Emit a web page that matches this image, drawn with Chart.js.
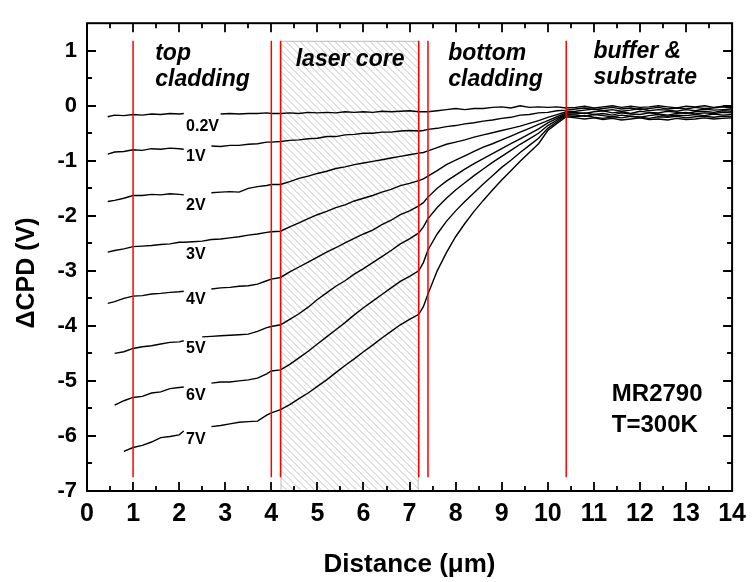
<!DOCTYPE html>
<html><head><meta charset="utf-8">
<script src="https://cdn.jsdelivr.net/npm/chart.js@4.4.1/dist/chart.umd.min.js"></script>
<style>html,body{margin:0;padding:0;background:#fff;}#wrap{width:754px;height:582px;}</style>
</head><body><div id="wrap"><canvas id="c" width="754" height="582"></canvas></div>
<script>
// ---------------- data ----------------
const distance = [0.45,0.6,0.8,1.0,1.2,1.4,1.6,1.8,2.0,2.1,2.3,2.5,2.7,2.9,3.1,3.3,3.5,3.7,3.9,4.0,
  4.2,4.4,4.6,4.8,5.0,5.2,5.4,5.6,5.8,6.0,6.2,6.4,6.6,6.8,7.0,7.2,
  7.3,7.4,7.6,7.8,8.0,8.2,8.4,8.6,8.8,9.0,9.2,9.4,9.6,9.8,10.0,10.2,10.4,
  10.6,10.8,11.0,11.2,11.4,11.6,11.8,12.0,12.2,12.4,12.6,12.8,13.0,13.2,13.4,13.6,13.8,14.0];

const cpd_0_2V = [-0.20,-0.17,-0.18,-0.16,-0.17,-0.15,-0.16,-0.14,-0.15,-0.14,null,null,null,-0.15,-0.14,-0.15,-0.14,-0.14,-0.13,-0.14,
  -0.14,-0.13,-0.14,-0.12,-0.13,-0.12,-0.13,-0.11,-0.12,-0.11,-0.12,-0.10,-0.11,-0.10,-0.09,-0.11,
  -0.11,-0.11,-0.09,-0.07,-0.05,-0.07,-0.05,-0.05,-0.03,-0.02,-0.04,0.00,-0.03,-0.02,-0.03,-0.02,-0.04,
  -0.03,-0.01,-0.04,-0.02,0.00,-0.03,-0.01,-0.03,-0.02,0.00,-0.02,-0.04,-0.01,-0.02,0.00,-0.03,-0.01,-0.02];
const cpd_1V = [-0.88,-0.84,-0.83,-0.80,-0.81,-0.78,-0.79,-0.77,-0.78,-0.79,null,null,-0.73,-0.74,-0.72,-0.72,-0.70,-0.69,-0.66,-0.66,
  -0.65,-0.63,-0.62,-0.60,-0.59,-0.56,-0.56,-0.53,-0.52,-0.50,-0.50,-0.48,-0.48,-0.46,-0.45,-0.46,
  -0.45,-0.43,-0.41,-0.38,-0.36,-0.33,-0.31,-0.28,-0.26,-0.23,-0.21,-0.17,-0.16,-0.13,-0.12,-0.09,-0.08,
  -0.06,-0.04,-0.07,-0.05,-0.03,-0.06,-0.04,-0.07,-0.05,-0.03,-0.06,-0.04,-0.06,-0.03,-0.05,-0.04,-0.02,-0.04];
const cpd_2V = [-1.74,-1.72,-1.68,-1.63,-1.63,-1.61,-1.62,-1.60,-1.61,-1.62,null,null,-1.58,-1.57,-1.56,-1.57,-1.50,-1.47,-1.45,-1.43,
  -1.43,-1.38,-1.32,-1.28,-1.23,-1.19,-1.14,-1.11,-1.07,-1.04,-1.01,-0.98,-0.95,-0.92,-0.89,-0.86,
  -0.85,-0.82,-0.76,-0.70,-0.66,-0.62,-0.57,-0.53,-0.49,-0.45,-0.41,-0.37,-0.32,-0.27,-0.21,-0.16,-0.11,
  -0.10,-0.08,-0.06,-0.09,-0.07,-0.10,-0.08,-0.05,-0.09,-0.07,-0.08,-0.10,-0.07,-0.09,-0.06,-0.08,-0.07,-0.06];
const cpd_3V = [-2.66,-2.63,-2.60,-2.56,-2.55,-2.54,-2.52,-2.51,-2.48,-2.48,-2.47,-2.46,-2.43,-2.42,-2.40,-2.38,-2.35,-2.33,-2.30,-2.29,
  -2.28,-2.20,-2.13,-2.05,-1.98,-1.92,-1.85,-1.80,-1.73,-1.68,-1.63,-1.57,-1.52,-1.45,-1.41,-1.36,
  -1.33,-1.28,-1.18,-1.07,-0.99,-0.91,-0.83,-0.75,-0.69,-0.62,-0.55,-0.48,-0.41,-0.34,-0.27,-0.20,-0.13,
  -0.12,-0.14,-0.11,-0.09,-0.13,-0.11,-0.14,-0.10,-0.12,-0.13,-0.10,-0.12,-0.14,-0.11,-0.10,-0.12,-0.09,-0.10];
const cpd_4V = [-3.59,-3.56,-3.50,-3.46,-3.45,-3.42,-3.41,-3.39,-3.38,-3.37,null,null,-3.33,-3.31,-3.30,-3.28,-3.27,-3.24,-3.18,-3.15,
  -3.12,-3.02,-2.93,-2.84,-2.75,-2.66,-2.58,-2.49,-2.41,-2.33,-2.26,-2.16,-2.08,-1.98,-1.91,-1.82,
  -1.76,-1.66,-1.50,-1.37,-1.26,-1.15,-1.05,-0.96,-0.87,-0.78,-0.69,-0.60,-0.51,-0.42,-0.31,-0.23,-0.15,
  -0.15,-0.13,-0.16,-0.14,-0.17,-0.13,-0.15,-0.16,-0.13,-0.15,-0.17,-0.14,-0.12,-0.15,-0.13,-0.14,-0.12,-0.13];
const cpd_5V = [null,-4.50,-4.47,-4.41,-4.38,-4.36,-4.33,-4.30,-4.29,-4.27,null,-4.20,-4.19,-4.18,-4.17,-4.16,-4.15,-4.10,-4.03,-4.01,
  -3.98,-3.88,-3.78,-3.66,-3.52,-3.40,-3.28,-3.18,-3.06,-2.96,-2.85,-2.74,-2.63,-2.51,-2.42,-2.31,
  -2.20,-2.05,-1.85,-1.68,-1.53,-1.40,-1.27,-1.15,-1.03,-0.92,-0.81,-0.70,-0.60,-0.50,-0.36,-0.26,-0.16,
  -0.17,-0.19,-0.16,-0.18,-0.20,-0.17,-0.19,-0.21,-0.18,-0.16,-0.19,-0.17,-0.18,-0.16,-0.18,-0.15,-0.17,-0.16];
const cpd_6V = [null,-5.44,-5.36,-5.30,-5.28,-5.22,-5.20,-5.14,-5.12,-5.11,null,null,-5.04,-5.02,-5.02,-5.00,-4.98,-4.95,-4.87,-4.82,
  -4.80,-4.70,-4.58,-4.46,-4.33,-4.20,-4.07,-3.94,-3.80,-3.67,-3.55,-3.43,-3.31,-3.19,-3.10,-3.00,
  -2.85,-2.62,-2.33,-2.10,-1.91,-1.74,-1.58,-1.42,-1.27,-1.12,-0.99,-0.85,-0.72,-0.59,-0.41,-0.29,-0.18,
  -0.20,-0.18,-0.21,-0.23,-0.20,-0.22,-0.19,-0.21,-0.23,-0.20,-0.21,-0.19,-0.22,-0.20,-0.19,-0.21,-0.19,-0.20];
const cpd_7V = [null,null,-6.28,-6.21,-6.17,-6.11,-6.03,-6.01,-5.98,-5.91,null,null,-5.83,-5.81,-5.78,-5.75,-5.74,-5.73,-5.62,-5.58,
  -5.52,-5.43,-5.32,-5.22,-5.10,-4.98,-4.85,-4.72,-4.60,-4.47,-4.35,-4.22,-4.10,-3.98,-3.88,-3.79,
  -3.65,-3.42,-3.00,-2.67,-2.38,-2.14,-1.92,-1.72,-1.53,-1.35,-1.18,-1.01,-0.85,-0.69,-0.45,-0.32,-0.20,
  -0.22,-0.24,-0.22,-0.25,-0.23,-0.26,-0.24,-0.22,-0.25,-0.24,-0.26,-0.23,-0.25,-0.24,-0.22,-0.24,-0.23,-0.22];

const seriesNames = ['0.2V','1V','2V','3V','4V','5V','6V','7V'];
const seriesValues = [cpd_0_2V,cpd_1V,cpd_2V,cpd_3V,cpd_4V,cpd_5V,cpd_6V,cpd_7V];

const boundaries = [1, 4, 4.2, 7.2, 7.4, 10.4];   // layer interfaces (µm)
const boundaryTop = 1.18, boundaryBottom = -6.75;
const coreRange = [4.2, 7.2];

const xTicks = [0,1,2,3,4,5,6,7,8,9,10,11,12,13,14];
const yTicks = [-7,-6,-5,-4,-3,-2,-1,0,1];

const regionNames = [['top','cladding'],['laser core'],['bottom','cladding'],['buffer &','substrate']];
const sampleInfo = ['MR2790','T=300K'];

// ---------------- layout / styling ----------------
const FAM = '"Liberation Sans", Arial, Helvetica, sans-serif';
const regionPos = [[1.48,0.83],[4.53,0.72],[7.84,0.83],[10.99,0.86]];
const curveLabelPos = [[2.15,-0.45],[2.15,-1.01],[2.15,-1.90],[2.15,-2.78],[2.15,-3.61],[2.15,-4.50],[2.15,-5.35],[2.15,-6.15]];
const samplePos = [11.39,-5.36];

const datasets = [];
boundaries.forEach(b => datasets.push({
  label:'interface', data:[{x:b,y:boundaryTop},{x:b,y:boundaryBottom}],
  borderColor:'#ff0000', borderWidth:1.5, pointRadius:0, order:0
}));
seriesNames.forEach((n,k) => datasets.push({
  label:n, data: distance.map((x,i)=>({x:x, y:seriesValues[k][i]})),
  borderColor:'#000', borderWidth:1.4, pointRadius:0, spanGaps:false, tension:0, order:1
}));

const hatchPlugin = {
  id:'hatch',
  beforeDatasetsDraw(chart){
    const {ctx, scales:{x,y}} = chart;
    const x0 = x.getPixelForValue(coreRange[0]), x1 = x.getPixelForValue(coreRange[1]);
    const y0 = y.getPixelForValue(boundaryTop), y1 = y.getPixelForValue(-7);
    const h = y1 - y0;
    ctx.save();
    ctx.beginPath(); ctx.rect(x0, y0, x1-x0, y1-y0); ctx.clip();
    ctx.strokeStyle = '#c2c2c2'; ctx.lineWidth = 1;
    ctx.beginPath();
    for (let k = x0 - h; k < x1 + 7; k += 7) { ctx.moveTo(k, y0); ctx.lineTo(k + h, y1); }
    ctx.stroke();
    ctx.restore();
    ctx.save();
    ctx.strokeStyle = '#bdbdbd'; ctx.lineWidth = 1;
    ctx.strokeRect(x0+0.5, y0+0.5, x1-x0-1, y1-y0-1);
    ctx.restore();
  }
};

const framePlugin = {
  id:'frame',
  afterDraw(chart){
    const {ctx, chartArea:a, scales:{x,y}} = chart;
    ctx.save();
    // annotations
    ctx.fillStyle = '#000';
    ctx.textAlign = 'left'; ctx.textBaseline = 'alphabetic';
    ctx.font = 'italic bold 23px ' + FAM;
    regionNames.forEach((lines,i) => {
      const px = x.getPixelForValue(regionPos[i][0]), py = y.getPixelForValue(regionPos[i][1]);
      lines.forEach((t,j) => ctx.fillText(t, px, py + j*26));
    });
    ctx.font = 'bold 16px ' + FAM;
    seriesNames.forEach((n,i) => ctx.fillText(n, x.getPixelForValue(curveLabelPos[i][0]), y.getPixelForValue(curveLabelPos[i][1])));
    ctx.font = 'bold 24px ' + FAM;
    sampleInfo.forEach((t,j) => ctx.fillText(t, x.getPixelForValue(samplePos[0]), y.getPixelForValue(samplePos[1]) + j*31));
    // y title
    ctx.save();
    ctx.translate(27, 273); ctx.rotate(-Math.PI/2);
    ctx.textAlign = 'center'; ctx.textBaseline = 'middle';
    ctx.font = 'bold 25px ' + FAM;
    ctx.fillText('\u0394CPD (V)', 0, 0);
    ctx.restore();
    // frame and inward ticks
    ctx.strokeStyle = '#000'; ctx.lineWidth = 2;
    ctx.strokeRect(a.left, a.top, a.right-a.left, a.bottom-a.top);
    ctx.lineWidth = 1.8;
    ctx.beginPath();
    for (let v = 0.5; v < 14; v += 0.5) {
      const px = Math.round(x.getPixelForValue(v)) ;
      const L = (v % 1 === 0) ? 9 : 5;
      ctx.moveTo(px, a.bottom); ctx.lineTo(px, a.bottom - L);
      ctx.moveTo(px, a.top); ctx.lineTo(px, a.top + L);
    }
    for (let v = -6.5; v < 1.5; v += 0.5) {
      const py = Math.round(y.getPixelForValue(v));
      const L = (v % 1 === 0) ? 9 : 5;
      ctx.moveTo(a.left, py); ctx.lineTo(a.left + L, py);
      ctx.moveTo(a.right, py); ctx.lineTo(a.right - L, py);
    }
    ctx.stroke();
    ctx.restore();
  }
};

new Chart(document.getElementById('c'), {
  type:'line',
  data:{ datasets },
  options:{
    responsive:false, animation:false, devicePixelRatio:1,
    layout:{ padding:{ left:0, right:16, top:14, bottom:0 } },
    plugins:{ legend:{display:false}, tooltip:{enabled:false} },
    scales:{
      x:{
        type:'linear', min:0, max:14,
        grid:{display:false, drawTicks:false}, border:{display:false},
        afterBuildTicks: s => { s.ticks = xTicks.map(v => ({value:v})); },
        afterFit: s => { s.height = 91; },
        ticks:{ color:'#000', padding:8, maxRotation:0, autoSkip:false, font:{family:FAM, size:25, weight:'bold'} },
        title:{ display:true, text:'Distance (\u03bcm)', color:'#000', font:{family:FAM, size:26, weight:'bold'}, padding:{top:0, bottom:2} }
      },
      y:{
        type:'linear', min:-7, max:1.5,
        grid:{display:false, drawTicks:false}, border:{display:false},
        afterBuildTicks: s => { s.ticks = yTicks.map(v => ({value:v})); },
        afterFit: s => { s.width = 87; },
        ticks:{ color:'#000', padding:10, font:{family:FAM, size:22, weight:'bold'} }
      }
    }
  },
  plugins:[hatchPlugin, framePlugin]
});
</script>
</body></html>
